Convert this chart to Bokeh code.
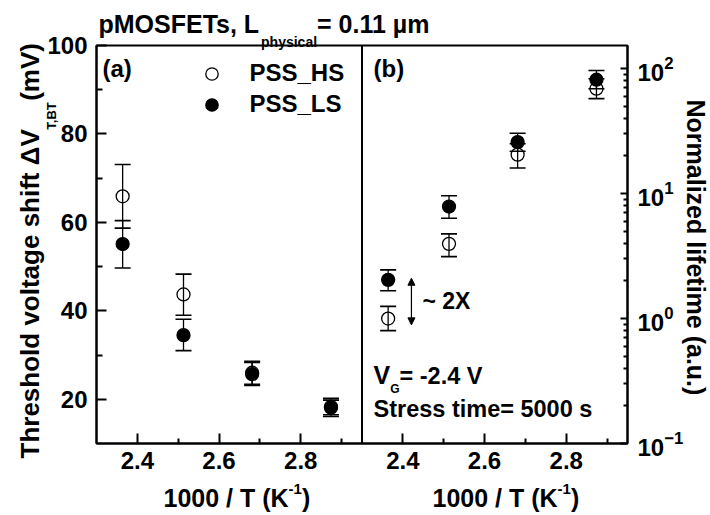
import math
from bokeh.plotting import figure
from bokeh.models import (Range1d, LogScale, LinearAxis, LogAxis, FixedTicker,
                          CustomJSTickFormatter, Span, Label, Legend, LegendItem,
                          Arrow, NormalHead)
from bokeh.embed import file_html
from bokeh.resources import INLINE

# ---------------- data ----------------
inv_T = [2.364, 2.513, 2.681, 2.874]          # 1000/T (K^-1)

# (a) threshold voltage shift (mV)
hs_a = [65.9, 43.7, 26.0, 18.3]
hs_a_lo = [58.7, 39.0, 23.4, 16.5]
hs_a_hi = [73.1, 48.3, 28.3, 19.8]
ls_a = [55.1, 34.5, 25.7, 18.1]
ls_a_lo = [49.7, 31.0, 23.1, 16.1]
ls_a_hi = [60.4, 38.1, 28.6, 20.2]

# (b) normalized lifetime (a.u.)
hs_b = [1.0, 3.96, 20.5, 69.0]
hs_b_lo = [0.80, 3.13, 16.0, 57.5]
hs_b_hi = [1.25, 4.76, 25.0, 83.0]
ls_b = [2.04, 7.87, 25.8, 81.5]
ls_b_lo = [1.67, 6.35, 21.8, 69.0]
ls_b_hi = [2.45, 9.60, 30.4, 96.4]

x_ticks = [2.4, 2.6, 2.8]
x_minor = [2.5, 2.7, 2.9]
ya_ticks = [20, 40, 60, 80, 100]
ya_minor = [30, 50, 70, 90]
yb_ticks = [0.1, 1, 10, 100]
series_names = ["PSS_HS", "PSS_LS"]

# ---------------- layout ----------------
W, H = 710, 515
FL, FR, FT, FB = 96, 627, 45, 443
FW, FH = FR - FL, FB - FT
X_LO, X_HI = 2.3, 2.95
SPAN = X_HI - X_LO
YA_LO, YA_HI = 10, 100
YB_LO, YB_HI = 0.1, 153
FONT = "Liberation Sans"

# wide hidden borders on the left/top hold the outer texts; the figure is
# shifted back by a negative margin so the frame sits where the reference has it
BL, BT = 300, 300
OX, OY = BL - FL, BT - FT

p = figure(width=BL + FW + (W - FR), height=BT + FH + (H - FB),
           x_range=Range1d(X_LO, X_HI + SPAN), y_range=Range1d(YA_LO, YA_HI),
           x_axis_type=None, y_axis_type=None,
           min_border_left=BL, min_border_right=W - FR,
           min_border_top=BT, min_border_bottom=H - FB,
           margin=(-OY, 0, 0, -OX),
           output_backend="svg", toolbar_location=None)
p.extra_x_ranges = {"b": Range1d(X_LO - SPAN, X_HI)}
p.extra_y_ranges = {"log": Range1d(YB_LO, YB_HI)}
p.extra_y_scales = {"log": LogScale()}
p.outline_line_color = "black"
p.outline_line_width = 2
p.outline_line_alpha = 1
p.background_fill_color = "white"
p.border_fill_color = "white"


def style_axis(ax, tin, tmin):
    ax.axis_line_color = "black"
    ax.axis_line_width = 2
    ax.major_tick_in = tin
    ax.major_tick_out = 0
    ax.minor_tick_in = tmin
    ax.minor_tick_out = 0
    ax.major_tick_line_width = 2
    ax.minor_tick_line_width = 2
    ax.major_label_text_font = FONT
    ax.major_label_text_font_style = "bold"
    ax.major_label_text_font_size = "24px"
    ax.major_label_text_color = "black"


bx = LinearAxis(
    ticker=FixedTicker(ticks=x_ticks + [round(t + SPAN, 6) for t in x_ticks],
                       minor_ticks=x_minor + [round(t + SPAN, 6) for t in x_minor]),
    formatter=CustomJSTickFormatter(args=dict(edge=X_HI, span=SPAN),
                                    code="const v = tick > edge + 1e-9 ? tick - span : tick; return v.toFixed(1);"))
style_axis(bx, 10, 5)
bx.major_label_standoff = 8
p.add_layout(bx, "below")

ly = LinearAxis(ticker=FixedTicker(ticks=ya_ticks, minor_ticks=ya_minor))
style_axis(ly, 10, 6)
ly.major_label_standoff = 9
p.add_layout(ly, "left")

log_minor = [m * 10.0 ** k for k in (-1, 0, 1) for m in range(2, 10)]
ry = LogAxis(y_range_name="log", ticker=FixedTicker(ticks=yb_ticks, minor_ticks=log_minor))
style_axis(ry, 7, 4)
ry.major_label_standoff = 10
p.add_layout(ry, "right")

p.add_layout(Span(location=X_HI, dimension="height", line_color="black", line_width=2))


def draw(xs, mid, lo, hi, filled, xr, yr):
    p.segment(x0=xs, y0=lo, x1=xs, y1=hi, line_color="black", line_width=1.3,
              x_range_name=xr, y_range_name=yr)
    p.scatter(x=xs + xs, y=lo + hi, marker="dash", size=16, line_color="black",
              line_width=1.6, x_range_name=xr, y_range_name=yr)
    return p.scatter(x=xs, y=mid, marker="circle", size=13,
                     fill_color="black" if filled else None, line_color="black",
                     line_width=1.3, x_range_name=xr, y_range_name=yr)


r_hs = draw(inv_T, hs_a, hs_a_lo, hs_a_hi, False, "default", "default")
r_ls = draw(inv_T, ls_a, ls_a_lo, ls_a_hi, True, "default", "default")
draw(inv_T, hs_b, hs_b_lo, hs_b_hi, False, "b", "log")
draw(inv_T, ls_b, ls_b_lo, ls_b_hi, True, "b", "log")

# legend
GL = 31
leg = Legend(items=[LegendItem(label=series_names[0], renderers=[r_hs]),
                    LegendItem(label=series_names[1], renderers=[r_ls])],
             location=(195.5 - FL, FB - (57.5 + 2 * GL)),
             glyph_width=GL, glyph_height=GL, label_height=GL, spacing=0, padding=0,
             margin=0, label_standoff=23, border_line_color=None,
             background_fill_alpha=0, label_text_font=FONT, label_text_font_style="bold",
             label_text_font_size="24px", label_text_color="black")
p.add_layout(leg)

# arrow (~2X)
p.add_layout(Arrow(x_start=2.421, y_start=2.1, x_end=2.421, y_end=0.89,
                   x_range_name="b", y_range_name="log", line_width=1.2,
                   start=NormalHead(size=7, fill_color="black", line_color="black", line_width=1),
                   end=NormalHead(size=7, fill_color="black", line_color="black", line_width=1)))

# ---------------- texts ----------------
AW = {' ': 278, '!': 333, '(': 333, ')': 333, ',': 278, '-': 333, '.': 278, '/': 278,
      '=': 584, '_': 556, '~': 584, 'Δ': 700, 'µ': 611,
      'A': 722, 'B': 722, 'C': 722, 'D': 722, 'E': 667, 'F': 611, 'G': 778, 'H': 722,
      'I': 278, 'K': 722, 'L': 611, 'M': 833, 'N': 722, 'O': 778, 'P': 667, 'S': 667,
      'T': 611, 'V': 667, 'X': 667,
      'a': 556, 'b': 611, 'c': 556, 'd': 611, 'e': 556, 'f': 333, 'g': 611, 'h': 611,
      'i': 278, 'l': 278, 'm': 889, 'n': 611, 'o': 611, 'p': 611, 'r': 389, 's': 556,
      't': 333, 'u': 611, 'v': 556, 'y': 556, 'z': 500}
for d in "0123456789":
    AW[d] = 556

BASE_FIX = 0.33   # observed downward drift of the rendered baseline, in em


def tw(s, size):
    return sum(AW.get(c, 556) for c in s) * size / 1000.0


def runs(parts, x0, y0, angle=0.0, place="center"):
    """Place text pieces (text, size, baseline shift) at page pixel (x0, y0)."""
    dx, dy = math.cos(angle), -math.sin(angle)
    nx, ny = math.sin(angle), math.cos(angle)
    cur = 0.0
    for text, size, shift in parts:
        s = shift - BASE_FIX * size
        px = x0 + dx * cur + nx * s + OX
        py = y0 + dy * cur + ny * s + OY
        lab = Label(x=px, y=py, x_units="canvas", y_units="canvas",
                    text=text, angle=angle,
                    text_font=FONT, text_font_style="bold",
                    text_font_size=f"{size}px", text_color="black",
                    text_align="left", text_baseline="alphabetic")
        if place == "center":
            p.add_layout(lab)
        else:
            p.add_layout(lab, place)
        cur += tw(text, size)


# texts outside the frame live in the (hidden) wide left/top border panels
runs([("pMOSFETs, L", 25, 0), ("physical", 14, 14.5), ("= 0.11 µm", 25, 0)], 98, 31.5,
     place="above")
runs([("Threshold voltage shift ΔV", 26, 0), ("T,BT", 13, 17), (" (mV)", 26, 0)],
     38, 458, math.pi / 2, place="left")
runs([("Normalized lifetime (a.u.)", 25, 0)], 687.5, 99, -math.pi / 2, place="left")
runs([("1000 / T (K", 25, 0), ("-1", 15, -13), (")", 25, 0)], 163, 506, place="above")
runs([("1000 / T (K", 25, 0), ("-1", 15, -13), (")", 25, 0)], 432, 506, place="above")
# texts inside the frame
runs([("(a)", 24, 0)], 102, 76)
runs([("(b)", 24, 0)], 373, 76)
runs([("~ 2X", 23, 0)], 422, 308)
runs([("V", 25, 0), ("G", 12, 9), ("= -2.4 V", 23.5, 0)], 373, 383)
runs([("Stress time= 5000 s", 23.5, 0)], 373, 416.5)

open("out.html", "w").write(file_html(p, INLINE))
